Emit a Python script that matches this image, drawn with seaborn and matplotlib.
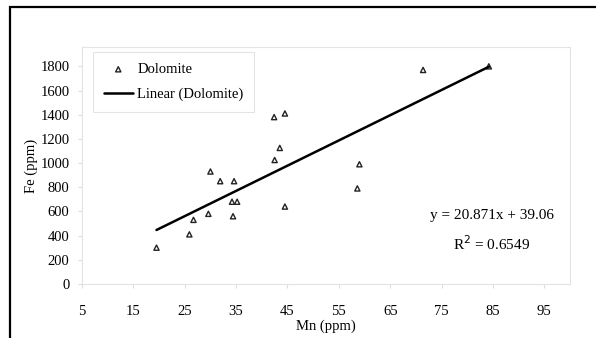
import numpy as np
import pandas as pd
import seaborn as sns
import matplotlib.pyplot as plt
from matplotlib.patches import Rectangle

# Dolomite samples
mn = [19.5, 25.9, 26.7, 29.6, 30.0, 31.9, 34.6, 34.2, 35.2, 34.4,
      42.4, 44.5, 43.5, 42.5, 44.5, 71.4, 84.2, 59.0, 58.6]
fe = [300, 410, 530, 580, 930, 850, 850, 680, 680, 560,
      1380, 1410, 1125, 1025, 640, 1770, 1800, 990, 790]
slope = 20.871
intercept = 39.06
r2 = 0.6549

df = pd.DataFrame({'Mn': mn, 'Fe': fe})
fit = pd.DataFrame({'Mn': [min(mn), max(mn)]})
fit['Fe'] = slope * fit['Mn'] + intercept

sns.set_style('white')
plt.rcParams['font.family'] = ['Liberation Serif', 'DejaVu Serif']
plt.rcParams['text.color'] = 'black'
plt.rcParams['axes.labelcolor'] = 'black'
plt.rcParams['xtick.labelcolor'] = 'black'
plt.rcParams['ytick.labelcolor'] = 'black'
fs = 10.5

fig = plt.figure(figsize=(5.96, 3.38), dpi=100)
ax = fig.add_axes([0.1376, 0.160, 0.8188, 0.701])

sns.scatterplot(data=df, x='Mn', y='Fe', ax=ax, marker='^', s=14,
                facecolor='none', edgecolor='#222222', linewidth=1.0,
                label='Dolomite')
sns.lineplot(data=fit, x='Mn', y='Fe', ax=ax, color='black', linewidth=1.8,
             label='Linear (Dolomite)')

ax.set_xlim(5, 100)
ax.set_ylim(0, 1960)
ax.set_xticks(np.arange(5, 100, 10))
ax.set_yticks(np.arange(0, 1801, 200))
ax.tick_params(labelsize=fs, length=3, color='#dddddd', direction='out',
               bottom=True, left=True)
ax.tick_params(axis='x', pad=12)
ax.tick_params(axis='y', pad=6)
for s in ax.spines.values():
    s.set_color('#e3e3e3')
    s.set_linewidth(0.8)

ax.set_xlabel('Mn (ppm)', fontsize=fs, labelpad=1)
ax.set_ylabel('Fe (ppm)', fontsize=fs, labelpad=2)

ax.text(0.84, 0.224, f'y = {slope}x + {intercept}\nR$^2$ = {r2}', transform=ax.transAxes,
        ha='center', va='center', fontsize=fs + 0.5, linespacing=1.8)

leg = ax.legend(loc='upper left', bbox_to_anchor=(0.022, 0.979), fontsize=fs,
                frameon=True, fancybox=False, edgecolor='#dddddd',
                borderpad=0.75, labelspacing=0.8, handlelength=2.0,
                handletextpad=0.3, borderaxespad=0)
leg.get_frame().set_linewidth(0.8)

fig.patches.append(Rectangle((10 / 596, -0.05), 1.0, 1 - 7 / 338 + 0.05,
                             transform=fig.transFigure, fill=False,
                             edgecolor='black', linewidth=1.6))

fig.savefig('out.png', dpi=100)
